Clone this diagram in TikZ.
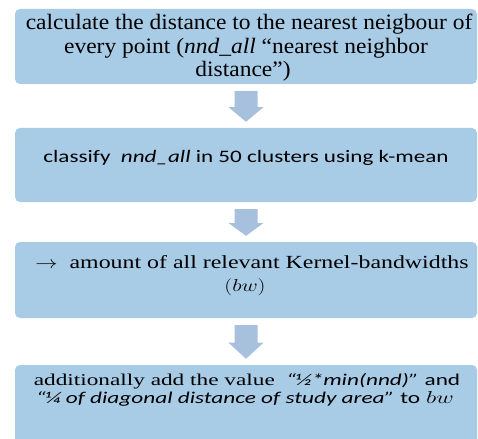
\documentclass[tikz,border=0pt]{standalone}
\usepackage{fontspec}
\setmainfont{Liberation Serif}
\newfontfamily\calibrilike{Carlito}
\usetikzlibrary{calc}

\definecolor{boxblue}{RGB}{168,203,230}
\definecolor{arrowblue}{RGB}{166,192,222}

\tikzset{
  x=1pt, y=-1pt,
  stepbox/.style={fill=boxblue, draw=none, rounded corners=5pt},
  txt/.style={anchor=base, inner sep=0pt, text=black},
  serifA/.style={txt, font=\fontsize{22}{24}\selectfont},
  sansB/.style={txt, font=\calibrilike\fontsize{17.5}{20}\selectfont},
  serifC/.style={txt, font=\fontsize{18.5}{21}\selectfont},
  mixD/.style={txt, font=\fontsize{16.5}{18}\selectfont},
  blockarrow/.style={fill=arrowblue, draw=none}
}

% horizontally widened text
\newcommand{\widetxt}[2]{\scalebox{#1}[1]{#2}}

% downward block arrow between two boxes
\newcommand{\downarrowblock}[2]{%
  \path let \p1=($(#1.south)$), \p2=($(#2.north)$) in
    [blockarrow] (\x1-11.5pt,\y1-7pt) -- (\x1+11.5pt,\y1-7pt)
    -- (\x1+11.5pt,{\y1-7pt-0.52*(\y1-\y2-13pt)})
    -- (\x1+17.5pt,{\y1-7pt-0.52*(\y1-\y2-13pt)})
    -- (\x1,\y2+6pt)
    -- (\x1-17.5pt,{\y1-7pt-0.52*(\y1-\y2-13pt)})
    -- (\x1-11.5pt,{\y1-7pt-0.52*(\y1-\y2-13pt)}) -- cycle;%
}

\begin{document}
\begin{tikzpicture}
\useasboundingbox (0,0) rectangle (478,438);
\clip (0,0) rectangle (478,438);

% the four process steps
\path[stepbox] (15,9) rectangle (477,84);
\path[stepbox] (15,128) rectangle (477,202);
\path[stepbox] (15,242) rectangle (477,318);
\path[stepbox] (15,365) rectangle (477,446);

\node[minimum width=462pt, minimum height=75pt, inner sep=0pt] (s1) at (246,46.5) {};
\node[minimum width=462pt, minimum height=74pt, inner sep=0pt] (s2) at (246,165) {};
\node[minimum width=462pt, minimum height=76pt, inner sep=0pt] (s3) at (246,280) {};
\node[minimum width=462pt, minimum height=81pt, inner sep=0pt] (s4) at (246,405.5) {};

% step 1
\node[serifA] (t1a) at (249,30) {\widetxt{1.067}{calculate the distance to the nearest neigbour of}};
\node[serifA] (t1b) at (246,53.5) {\widetxt{1.067}{every point (\textit{nnd\_all} “nearest neighbor}};
\node[serifA] (t1c) at (243,77) {\widetxt{1.067}{distance”)}};

% step 2
\node[sansB] (t2a) at (246,163) {\widetxt{1.32}{classify \ \textit{nnd\_all} in 50 clusters using k-mean}};

% step 3
\node[serifC] (t3a) at (252,268) {\widetxt{1.29}{$\rightarrow$\ \ amount of all relevant Kernel-bandwidths}};
\node[serifC] (t3b) at (245,291) {\widetxt{1.29}{$(bw)$}};

% step 4
\node[mixD] (t4a) at (247,385) {\widetxt{1.41}{additionally add the value \ {\calibrilike\itshape “½*min(nnd)”} {\calibrilike and}}};
\node[mixD] (t4b) at (245,403) {\widetxt{1.41}{{\calibrilike\itshape “¼ of diagonal distance of study area”} {\calibrilike to} $bw$}};

% arrows between the steps
\downarrowblock{s1}{s2}
\downarrowblock{s2}{s3}
\downarrowblock{s3}{s4}
\end{tikzpicture}
\end{document}
